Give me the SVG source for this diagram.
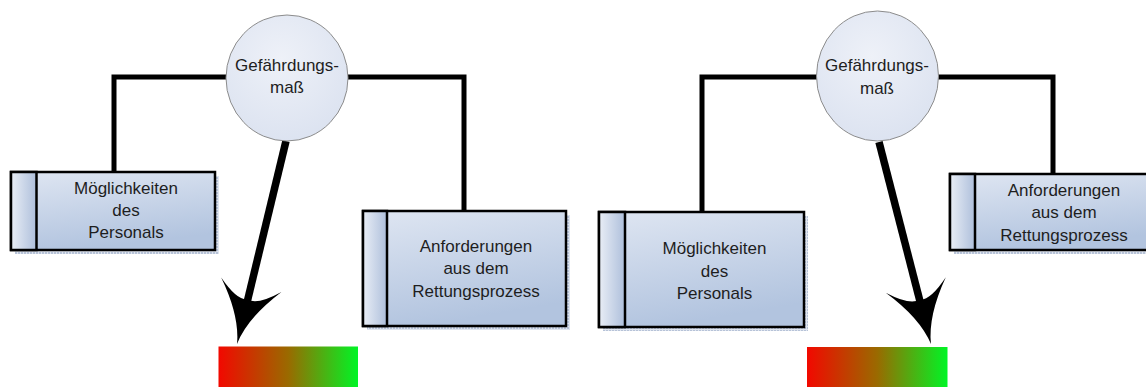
<svg xmlns="http://www.w3.org/2000/svg" width="1146" height="387" viewBox="0 0 1146 387">
  <defs>
    <linearGradient id="gMain" x1="0" y1="0" x2="0.3" y2="1">
      <stop offset="0" stop-color="#dfe6f2"/>
      <stop offset="1" stop-color="#b2c4df"/>
    </linearGradient>
    <linearGradient id="gStrip" x1="0" y1="0" x2="1" y2="0">
      <stop offset="0" stop-color="#e9eef6"/>
      <stop offset="1" stop-color="#aebfdb"/>
    </linearGradient>
    <radialGradient id="gCircle" cx="0.45" cy="0.35" r="0.7">
      <stop offset="0" stop-color="#eef1f8"/>
      <stop offset="1" stop-color="#dbe2f0"/>
    </radialGradient>
    <linearGradient id="gScale" x1="0" y1="0" x2="1" y2="0">
      <stop offset="0" stop-color="#f20800"/>
      <stop offset="0.5" stop-color="#9a6a00"/>
      <stop offset="1" stop-color="#00f525"/>
    </linearGradient>
    <pattern id="dots" width="3" height="3" patternUnits="userSpaceOnUse">
      <rect width="3" height="3" fill="#dfe5ef"/>
      <rect width="2" height="2" fill="#b7c3d8"/>
    </pattern>
    <marker id="fancy" markerUnits="userSpaceOnUse" markerWidth="120" markerHeight="120" refX="0" refY="0" orient="auto" overflow="visible">
      <path d="M40,0 Q12,-4 -21,-31 Q-2,-10 -6,0 Q-2,10 -21,31 Q12,4 40,0 Z" fill="#000"/>
    </marker>
  </defs>
  <style>
    .conn { fill: none; stroke: #000; stroke-width: 5; stroke-linejoin: miter; }
    .arrow { fill: none; stroke: #000; stroke-width: 7.5; marker-end: url(#fancy); }
    .shadow { fill: url(#dots); }
    .box { fill: url(#gMain); stroke: #000; stroke-width: 2.5; }
    .strip { fill: url(#gStrip); stroke: #000; stroke-width: 2.5; }
    .circ { fill: url(#gCircle); stroke: #8c8c8c; stroke-width: 1; }
    .scale { fill: url(#gScale); }
    text { font-family: "Liberation Sans", Arial, sans-serif; font-size: 17px; fill: #1e1e1e; text-anchor: middle; }
  </style>
  <rect width="1146" height="387" fill="#ffffff"/>

  <g id="connectors">
    <path class="conn" d="M114,172 V77 H226"/>
    <path class="conn" d="M348,77 H464 V211"/>
    <path class="arrow" d="M286,141 L246.4,305.1"/>
    <path class="conn" d="M702,212 V77 H817"/>
    <path class="conn" d="M938,77 H1053 V174"/>
    <path class="arrow" d="M879,142 L921,305.3"/>
  </g>

  <!-- left diagram -->
  <g id="node-gefaehrdung-1">
    <ellipse class="circ" cx="287" cy="78" rx="61" ry="63"/>
    <text x="287" y="71">Gefährdungs-</text>
    <text x="287" y="93">maß</text>
  </g>
  <g id="node-moeglichkeiten-1">
    <rect class="shadow" x="15" y="176" width="204" height="78"/>
    <rect class="box" x="11" y="172" width="204" height="78"/>
    <rect class="strip" x="11" y="172" width="25.5" height="78"/>
    <text x="126" y="194">Möglichkeiten</text>
    <text x="126" y="216">des</text>
    <text x="126" y="238">Personals</text>
  </g>
  <g id="node-anforderungen-1">
    <rect class="shadow" x="367" y="215" width="203" height="115"/>
    <rect class="box" x="363" y="211" width="203" height="115"/>
    <rect class="strip" x="363" y="211" width="24" height="115"/>
    <text x="476" y="251.5">Anforderungen</text>
    <text x="476" y="274">aus dem</text>
    <text x="476" y="296.5">Rettungsprozess</text>
  </g>
  <g id="node-skala-1">
    <rect class="scale" x="218.5" y="346.5" width="139.5" height="42"/>
  </g>

  <!-- right diagram -->
  <g id="node-gefaehrdung-2">
    <ellipse class="circ" cx="877.5" cy="76" rx="61" ry="65"/>
    <text x="877" y="71">Gefährdungs-</text>
    <text x="877" y="94">maß</text>
  </g>
  <g id="node-moeglichkeiten-2">
    <rect class="shadow" x="603" y="216" width="205" height="115"/>
    <rect class="box" x="599" y="212" width="205" height="115"/>
    <rect class="strip" x="599" y="212" width="26" height="115"/>
    <text x="714.5" y="254">Möglichkeiten</text>
    <text x="714.5" y="276.5">des</text>
    <text x="714.5" y="298.5">Personals</text>
  </g>
  <g id="node-anforderungen-2">
    <rect class="shadow" x="954" y="178" width="200" height="76"/>
    <rect class="box" x="950" y="174" width="204" height="76"/>
    <rect class="strip" x="950" y="174" width="25" height="76"/>
    <text x="1064" y="196">Anforderungen</text>
    <text x="1064" y="218">aus dem</text>
    <text x="1064" y="240.5">Rettungsprozess</text>
  </g>
  <g id="node-skala-2">
    <rect class="scale" x="807" y="347" width="140.5" height="42"/>
  </g>
</svg>
